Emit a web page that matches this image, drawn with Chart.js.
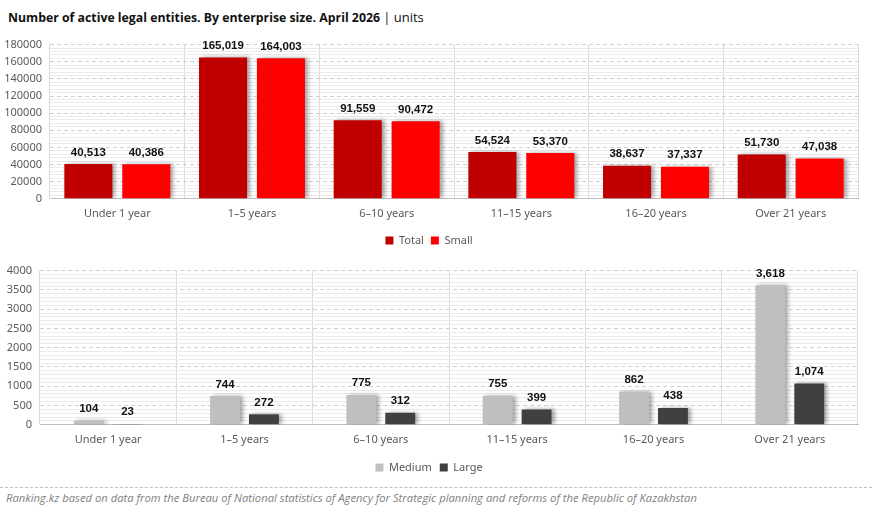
<!DOCTYPE html>
<html>
<head>
<meta charset="utf-8">
<script src="https://cdn.jsdelivr.net/npm/chart.js@4.4.1/dist/chart.umd.min.js"></script>
<style>
  body { margin: 0; background: #fff; width: 872px; height: 512px; position: relative; overflow: hidden; font-family: 'Open Sans', sans-serif; }
  #title { position: absolute; left: 8px; top: 8px; font-size: 12.3px; color: #111; white-space: nowrap; }
  #title b { font-weight: 700; }
  #title span { font-size: 13px; }
  .box { position: absolute; left: 0; width: 872px; }
  #top-box { top: 30px; height: 226px; }
  #bottom-box { top: 256px; height: 227px; }
  #sep { position: absolute; left: 0; right: 0; top: 487px; border-top: 1px dashed #bfbfbf; }
  #footer { position: absolute; left: 6px; top: 490px; font-size: 11.25px; font-style: italic; color: #7f7f7f; white-space: nowrap; }
</style>
</head>
<body>
<div id="title"><b>Number of active legal entities. By enterprise size. April 2026</b> <span>| units</span></div>
<div class="box" id="top-box"><canvas id="top-chart"></canvas></div>
<div class="box" id="bottom-box"><canvas id="bottom-chart"></canvas></div>
<div id="sep"></div>
<div id="footer">Ranking.kz based on data from the Bureau of National statistics of Agency for Strategic planning and reforms of the Republic of Kazakhstan</div>
<script>
const categories = ['Under 1 year', '1–5 years', '6–10 years', '11–15 years', '16–20 years', 'Over 21 years'];
const totalValues = [40513, 165019, 91559, 54524, 38637, 51730];
const smallValues = [40386, 164003, 90472, 53370, 37337, 47038];
const mediumValues = [104, 744, 775, 755, 862, 3618];
const largeValues = [23, 272, 312, 399, 438, 1074];

const axisFont = { family: "'Noto Sans', sans-serif", size: 11 };
const axisColor = '#595959';

// soft shadow on the right side of the bars
const barShadow = {
    id: 'barShadow',
    beforeDatasetsDraw(chart) {
        const ctx = chart.ctx;
        ctx.save();
        ctx.shadowColor = 'rgba(0,0,0,0.35)';
        ctx.shadowBlur = 4;
        ctx.shadowOffsetX = 3;
        ctx.shadowOffsetY = 0;
    },
    afterDatasetsDraw(chart) {
        chart.ctx.restore();
    }
};

// value labels above the bars
const valueLabels = {
    id: 'valueLabels',
    afterDatasetsDraw(chart) {
        const { ctx, data } = chart;
        ctx.save();
        ctx.textAlign = 'center';
        ctx.textBaseline = 'bottom';
        ctx.fillStyle = '#111';
        ctx.font = "bold 11.5px 'Liberation Sans', sans-serif";
        data.datasets.forEach((ds, di) => {
            chart.getDatasetMeta(di).data.forEach((bar, i) => {
                ctx.fillText(ds.data[i].toLocaleString('en-US'), bar.x, bar.y - 6);
            });
        });
        ctx.restore();
    }
};

function makeChart(id, labelA, dataA, colorA, labelB, dataB, colorB, yMax, major, minor, yWidth, cat, bar, legendPad) {
    return new Chart(document.getElementById(id), {
        type: 'bar',
        data: {
            labels: categories,
            datasets: [
                { label: labelA, data: dataA, backgroundColor: colorA, categoryPercentage: cat, barPercentage: bar },
                { label: labelB, data: dataB, backgroundColor: colorB, categoryPercentage: cat, barPercentage: bar },
            ],
        },
        options: {
            animation: false,
            responsive: true,
            maintainAspectRatio: false,
            layout: { padding: { top: 10, right: 14, left: 0, bottom: 0 } },
            plugins: {
                legend: {
                    position: 'bottom',
                    labels: {
                        boxWidth: 8,
                        boxHeight: 8,
                        padding: legendPad,
                        color: axisColor,
                        font: axisFont,
                    },
                },
                tooltip: { enabled: false },
            },
            scales: {
                x: {
                    grid: { offset: true, color: '#d9d9d9', drawTicks: false },
                    border: { display: true, color: '#bfbfbf' },
                    ticks: { color: axisColor, font: axisFont, padding: 8 },
                },
                y: {
                    min: 0,
                    max: yMax,
                    afterFit(scale) { scale.width = yWidth; },
                    grid: {
                        drawTicks: false,
                        color: (c) => (c.tick && c.tick.value % major === 0) ? '#d0d0d0' : '#ebebeb',
                    },
                    border: {
                        display: false,
                        dash: (c) => (c.tick && c.tick.value % major === 0 && c.tick.value !== 0) ? [4, 3] : [],
                    },
                    ticks: {
                        stepSize: minor,
                        autoSkip: false,
                        color: axisColor,
                        font: axisFont,
                        padding: 8,
                        callback: (v) => (v % major === 0 ? String(v) : ''),
                    },
                },
            },
        },
        plugins: [barShadow, valueLabels],
    });
}

makeChart('top-chart', 'Total', totalValues, '#c00000', 'Small', smallValues, '#ff0000',
    180000, 20000, 4000, 50, 0.86, 0.83, 7);
makeChart('bottom-chart', 'Medium', mediumValues, '#bfbfbf', 'Large', largeValues, '#404040',
    4000, 500, 100, 40, 0.57, 0.77, 8);
</script>
</body>
</html>
